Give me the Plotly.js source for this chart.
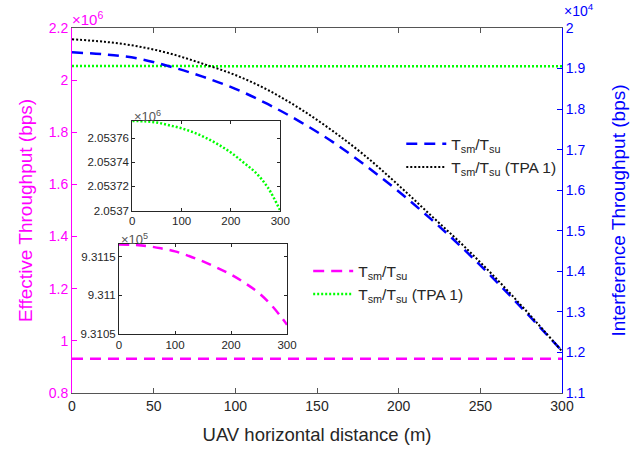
<!DOCTYPE html>
<html>
<head>
<meta charset="utf-8">
<script src="https://cdn.plot.ly/plotly-3.0.1.min.js"></script>
<style>html,body{margin:0;padding:0;background:#fff;}#chart{width:639px;height:453px;}</style>
</head>
<body>
<div id="chart"></div>
<script>
// UAV horizontal distance (m)
const distMain = [0, 20, 40, 60, 80, 100, 120, 140, 160, 180, 200, 220, 240, 260, 280, 300];
// Interference throughput (x10^4 bps)
const interfTsmTsu = [1.940, 1.935, 1.925, 1.905, 1.880, 1.850, 1.812, 1.768, 1.718, 1.660, 1.597, 1.528, 1.454, 1.374, 1.290, 1.204];
const interfTsmTsuTPA1 = [1.972, 1.966, 1.955, 1.937, 1.912, 1.884, 1.847, 1.800, 1.745, 1.683, 1.612, 1.537, 1.462, 1.381, 1.294, 1.203];
// Effective throughput
const distInset = [0, 25, 50, 75, 100, 125, 150, 175, 200, 225, 250, 275, 300];
const effTPA1_e6 = [2.053774, 2.0537738, 2.0537728, 2.0537705, 2.053768, 2.0537645, 2.05376, 2.0537545, 2.053748, 2.05374, 2.0537315, 2.053719, 2.0537]; // x10^6
const effTsmTsu_e5 = [9.31166, 9.311655, 9.31164, 9.31161, 9.31157, 9.31151, 9.31144, 9.31136, 9.31127, 9.31116, 9.31103, 9.31085, 9.31062]; // x10^5
const legendName1 = 'T<sub>sm</sub>/T<sub>su</sub>';
const legendName2 = 'T<sub>sm</sub>/T<sub>su</sub> (TPA 1)';

const MAG = '#ff00ff', BLUE = '#0000ff', GREEN = '#00ff00', DARK = '#262626';
const FONT = 'Liberation Sans, Arial, sans-serif';

const effTsmTsu_e6 = effTsmTsu_e5.map(v => v / 10);

const traces = [
  {x: distMain, y: interfTsmTsu, xaxis: 'x', yaxis: 'y2', mode: 'lines', name: legendName1,
   line: {color: BLUE, width: 2.5, dash: '11px,7px', shape: 'spline'}, legend: 'legend'},
  {x: distMain, y: interfTsmTsuTPA1, xaxis: 'x', yaxis: 'y2', mode: 'lines', name: legendName2,
   line: {color: '#000000', width: 2, dash: '2px,2px', shape: 'spline'}, legend: 'legend'},
  {x: distInset, y: effTsmTsu_e6, xaxis: 'x', yaxis: 'y', mode: 'lines', name: legendName1,
   line: {color: MAG, width: 2.5, dash: '11px,7px'}, legend: 'legend2'},
  {x: distInset, y: effTPA1_e6, xaxis: 'x', yaxis: 'y', mode: 'lines', name: legendName2,
   line: {color: GREEN, width: 2.5, dash: '2px,2px'}, legend: 'legend2'},
  {x: distInset, y: effTPA1_e6, xaxis: 'x3', yaxis: 'y3', mode: 'lines', showlegend: false,
   line: {color: GREEN, width: 2.5, dash: '2px,2px', shape: 'spline'}},
  {x: distInset, y: effTsmTsu_e5, xaxis: 'x4', yaxis: 'y4', mode: 'lines', showlegend: false,
   line: {color: MAG, width: 2.5, dash: '10px,7px', shape: 'spline'}}
];

const insetAx = {
  showline: true, linecolor: DARK, linewidth: 1, mirror: 'ticks', ticks: 'inside', ticklen: 3,
  tickcolor: DARK, showgrid: false, zeroline: false, tickfont: {family: FONT, size: 11.5, color: DARK}
};

const layout = {
  width: 639, height: 453,
  margin: {l: 72, r: 77, t: 28, b: 60},
  paper_bgcolor: '#fff', plot_bgcolor: '#fff',
  font: {family: FONT, color: DARK},
  xaxis: {range: [0, 300], dtick: 50, showgrid: false, zeroline: false, showline: true, linecolor: '#555',
          mirror: 'ticks', ticks: 'inside', ticklen: 5, tickcolor: '#555',
          tickfont: {family: FONT, size: 14, color: DARK},
          title: {text: 'UAV horizontal distance (m)', font: {family: FONT, size: 18.5, color: DARK}, standoff: 15}},
  yaxis: {range: [0.8, 2.2], dtick: 0.2, showgrid: false, zeroline: false, showline: true, linecolor: MAG,
          ticks: 'inside', ticklen: 5, tickcolor: MAG, tickfont: {family: FONT, size: 14, color: MAG},
          title: {text: 'Effective Throughput (bps)', font: {family: FONT, size: 19, color: MAG}, standoff: 11}},
  yaxis2: {range: [1.1, 2.0], dtick: 0.1, overlaying: 'y', side: 'right', showgrid: false, zeroline: false,
           showline: true, linecolor: BLUE, ticks: 'inside', ticklen: 5, tickcolor: BLUE,
           tickfont: {family: FONT, size: 14, color: BLUE},
           title: {text: 'Interference Throughput (bps)', font: {family: FONT, size: 19, color: BLUE}, standoff: 27}},
  xaxis3: Object.assign({}, insetAx, {domain: [0.123, 0.425], anchor: 'y3', range: [0, 300], tickvals: [0, 100, 200, 300]}),
  yaxis3: Object.assign({}, insetAx, {domain: [0.4995, 0.745], anchor: 'x3', range: [2.0537, 2.053774],
          tickvals: [2.0537, 2.05372, 2.05374, 2.05376], tickformat: '.6~g'}),
  xaxis4: Object.assign({}, insetAx, {domain: [0.0959, 0.4388], anchor: 'y4', range: [0, 300], tickvals: [0, 100, 200, 300]}),
  yaxis4: Object.assign({}, insetAx, {domain: [0.1616, 0.408], anchor: 'x4', range: [9.3105, 9.311665],
          tickvals: [9.3105, 9.311, 9.3115], tickformat: '.5~g'}),
  legend: {x: 0.672, y: 0.728, xanchor: 'left', yanchor: 'top', bgcolor: 'rgba(0,0,0,0)',
           font: {family: FONT, size: 15.5, color: DARK}, itemwidth: 40, tracegroupgap: 0},
  legend2: {x: 0.482, y: 0.38, xanchor: 'left', yanchor: 'top', bgcolor: 'rgba(0,0,0,0)',
           font: {family: FONT, size: 15.5, color: DARK}, itemwidth: 40, tracegroupgap: 0},
  annotations: [
    {xref: 'paper', yref: 'paper', x: 0, y: 1, xanchor: 'left', yanchor: 'bottom', showarrow: false,
     text: '×10<sup>6</sup>', font: {family: FONT, size: 15, color: MAG}, xshift: -2, yshift: -2},
    {xref: 'paper', yref: 'paper', x: 1, y: 1, xanchor: 'left', yanchor: 'bottom', showarrow: false,
     text: '×10<sup>4</sup>', font: {family: FONT, size: 14, color: BLUE}, xshift: 0, yshift: 7},
    {xref: 'x3 domain', yref: 'y3 domain', x: 0, y: 1, xanchor: 'left', yanchor: 'bottom', showarrow: false,
     text: '×10<sup>6</sup>', font: {family: FONT, size: 13, color: '#555'}, yshift: -5},
    {xref: 'x4 domain', yref: 'y4 domain', x: 0, y: 1, xanchor: 'left', yanchor: 'bottom', showarrow: false,
     text: '×10<sup>5</sup>', font: {family: FONT, size: 13, color: '#555'}, yshift: -5}
  ]
};

Plotly.newPlot('chart', traces, layout, {displayModeBar: false, staticPlot: true});
</script>
</body>
</html>
